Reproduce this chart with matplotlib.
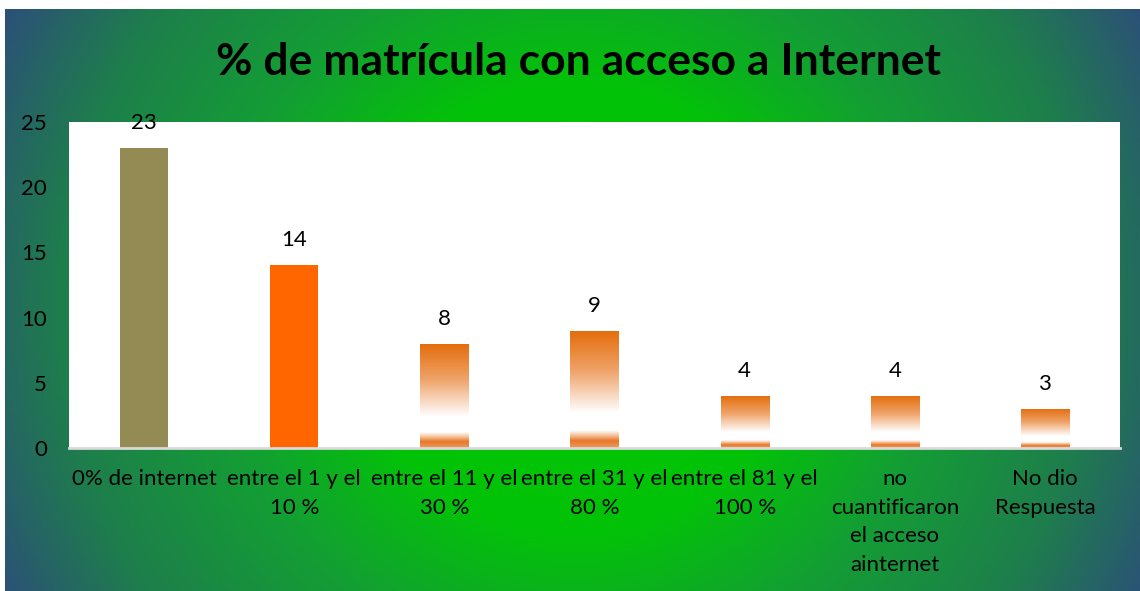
import numpy as np
import matplotlib
matplotlib.use('Agg')
import matplotlib.pyplot as plt
from matplotlib.colors import LinearSegmentedColormap

categories = ['0% de internet', 'entre el 1 y el\n10 %', 'entre el 11 y el\n30 %',
              'entre el 31 y el\n80 %', 'entre el 81 y el\n100 %',
              'no\ncuantificaron\nel acceso\nainternet', 'No dio\nRespuesta']
values = [23, 14, 8, 9, 4, 4, 3]
styles = ['solid_olive', 'solid_orange', 'grad', 'grad', 'grad', 'grad', 'grad']
title = '% de matrícula con acceso a Internet'

plt.rcParams['font.family'] = ['Lato', 'DejaVu Sans']

W, H = 1140, 591
fig = plt.figure(figsize=(W / 100, H / 100), dpi=100)
fig.patch.set_facecolor('white')

# background radial gradient
bg = fig.add_axes([5 / W, 0, (W - 5) / W, (H - 9) / H])
bg.set_axis_off()
gx, gy = np.meshgrid(np.linspace(0, 1135, 400), np.linspace(0, 582, 220))
cx, cy = 570, 300
d = np.sqrt((gx - cx) ** 2 + (gy - cy) ** 2) / np.sqrt(cx ** 2 + cy ** 2)
bg_cmap = LinearSegmentedColormap.from_list('bg', [
    (0.0, '#00c800'), (0.35, '#03c208'), (0.55, '#139f33'),
    (0.8, '#1e7e4c'), (1.0, '#2c5078')])
bg.imshow(d, cmap=bg_cmap, vmin=0, vmax=1, aspect='auto', extent=[0, 1, 0, 1])
bg.set_xlim(0, 1)
bg.set_ylim(0, 1)

fig.text(578 / W, 1 - 62 / H, title, ha='center', va='center',
         fontsize=32, fontweight='bold', color='black')

ax = fig.add_axes([69 / W, (H - 448) / H, 1051 / W, 326 / H])
ax.set_facecolor('white')
x = np.arange(len(categories))
colors = {'solid_olive': '#948a54', 'solid_orange': '#ff6600', 'grad': 'none'}
bars = ax.bar(x, values, width=0.32, color=[colors[s] for s in styles], zorder=2)

grad_cmap = LinearSegmentedColormap.from_list('bar', [
    (0.0, '#e46c0a'), (0.35, '#efa46a'), (0.7, '#ffffff'), (0.85, '#ffffff'),
    (0.89, '#f6c9a5'), (0.94, '#e8782a'), (1.0, '#ee9a5c')])
grad = np.linspace(0, 1, 256).reshape(-1, 1)
for b, s in zip(bars, styles):
    if s != 'grad':
        continue
    x0, w, h = b.get_x(), b.get_width(), b.get_height()
    im = ax.imshow(grad, cmap=grad_cmap, aspect='auto',
                   extent=[x0, x0 + w, 0, h], origin='upper', zorder=2)
    im.set_clip_path(b)

for b, v in zip(bars, values):
    ax.annotate(str(v), (b.get_x() + b.get_width() / 2, v), xytext=(0, 25),
                textcoords='offset pixels', ha='center', va='center',
                fontsize=16, color='black')

ax.set_xlim(-0.5, len(categories) - 0.5)
ax.set_ylim(0, 25)
ax.set_yticks([0, 5, 10, 15, 20, 25])
ax.set_xticks(x)
ax.set_xticklabels(categories, fontsize=16, color='black', linespacing=1.55)
ax.tick_params(axis='both', length=0, labelsize=16)
ax.tick_params(axis='y', pad=16)
ax.tick_params(axis='x', pad=15)
for sp in ['top', 'right', 'left']:
    ax.spines[sp].set_visible(False)
ax.spines['bottom'].set_color('#d9d9d9')
ax.spines['bottom'].set_linewidth(2)

fig.savefig('out.png', dpi=100)
